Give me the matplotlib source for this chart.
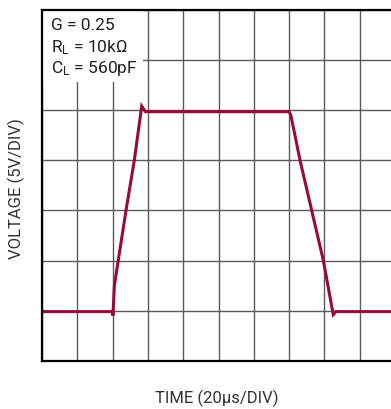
import matplotlib
matplotlib.use('Agg')
import matplotlib.pyplot as plt
from matplotlib.patches import Rectangle

# fonts: Roboto is the narrowest installed sans
plt.rcParams['font.family'] = ['Roboto', 'DejaVu Sans']
plt.rcParams['mathtext.fontset'] = 'custom'
plt.rcParams['mathtext.rm'] = 'Roboto'
plt.rcParams['mathtext.it'] = 'Roboto'
plt.rcParams['mathtext.default'] = 'regular'

# waveform (time in us, voltage in V)
t_us = [0, 40.0, 40.2, 41.0, 47.6, 52.3, 56.5, 58.6, 140.0, 141.0,
        146.2, 152.8, 159.4, 165.0, 166.5, 200]
v_volts = [-0.1, -0.1, -0.5, 2.5, 10.0, 15.0, 20.4, 19.85, 19.85, 19.5,
           15.0, 10.0, 5.0, -0.4, -0.1, -0.1]

# scope grid: 10 x 20us, 7 x 5V
x_ticks = [0, 20, 40, 60, 80, 100, 120, 140, 160, 180, 200]
y_ticks = [-5, 0, 5, 10, 15, 20, 25, 30]

notes = ['G = 0.25', 'R$_{L}$ = 10k\u03a9', 'C$_{L}$ = 560pF']
note_y = [0.946, 0.883, 0.823]

fig = plt.figure(figsize=(3.91, 4.10), dpi=100)
ax = fig.add_axes([42 / 391, 48.3 / 410, 353 / 391, 350.7 / 410])

ax.set_xlim(x_ticks[0], x_ticks[-1])
ax.set_ylim(y_ticks[0], y_ticks[-1])
ax.set_xticks(x_ticks)
ax.set_yticks(y_ticks)
ax.tick_params(length=0, labelbottom=False, labelleft=False)
ax.grid(True, color='#5a5a5a', linewidth=1.0, zorder=1)
ax.set_axisbelow(True)
for s in ax.spines.values():
    s.set_linewidth(1.6)
    s.set_color('black')
    s.set_zorder(5)

# white patch behind the notes hides the grid there
ax.add_patch(Rectangle((0, 0.795), 0.286, 0.205, transform=ax.transAxes,
                       facecolor='white', edgecolor='none', zorder=2))

ax.plot(t_us, v_volts, color='#960c36', linewidth=2.2, zorder=3,
        solid_joinstyle='miter')

for s, yy in zip(notes, note_y):
    ax.text(0.025, yy, s, transform=ax.transAxes, fontsize=12.5,
            color='#222222', va='baseline', ha='left', zorder=4)

fig.text(16.5 / 391, 1 - 188.5 / 410, 'VOLTAGE (5V/DIV)', rotation=90, fontsize=12,
         color='#333333', ha='center', va='center')
fig.text(217 / 391, 1 - 398 / 410, 'TIME (20\u00b5s/DIV)', fontsize=12,
         color='#333333', ha='center', va='center')

fig.savefig('out.png', dpi=100)
